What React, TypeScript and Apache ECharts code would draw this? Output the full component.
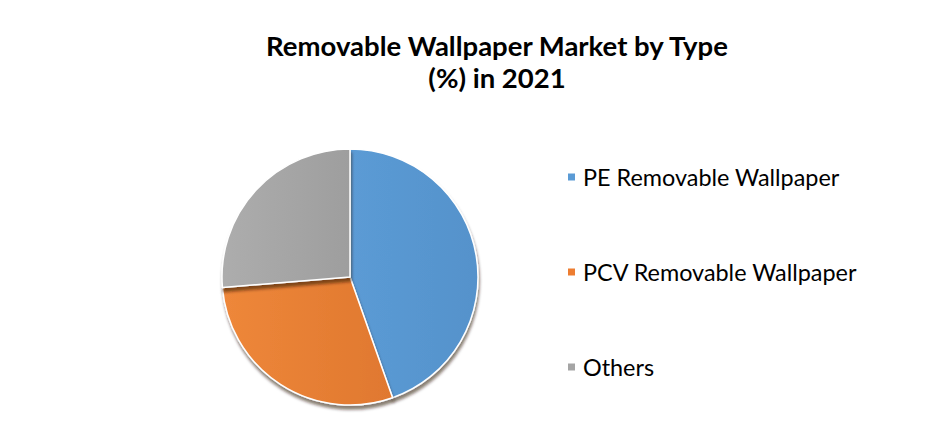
import React, { useEffect, useRef } from "react";
import * as echarts from "echarts";

const categories = ["PE Removable Wallpaper", "PCV Removable Wallpaper", "Others"];
const shares = [44.6, 29.1, 26.3];
const colorStops = [
  ["#5B9BD5", "#5592CB"],
  ["#EE873A", "#E0782F"],
  ["#ADADAD", "#9E9E9E"],
];
const legendColors = ["#5B9BD5", "#ED7D31", "#A5A5A5"];

export default function App() {
  const ref = useRef<HTMLDivElement>(null);
  useEffect(() => {
    document.body.style.margin = "0";
    const chart = echarts.init(ref.current!, null, { renderer: "svg" });
    chart.setOption({
      animation: false,
      backgroundColor: "#ffffff",
      title: {
        text: "Removable Wallpaper Market by Type\n(%) in 2021",
        left: 492,
        textAlign: "center",
        top: 24,
        textStyle: {
          fontFamily: "Lato",
          fontWeight: "bold",
          fontSize: 27.5,
          lineHeight: 32,
          color: "#000000",
        },
      },
      legend: {
        orient: "vertical",
        left: 561,
        top: 160,
        icon: "rect",
        itemWidth: 9,
        itemHeight: 9,
        itemGap: 71,
        textStyle: {
          fontFamily: "Lato",
          fontSize: 23.4,
          lineHeight: 24,
          color: "#000000",
          padding: [0, 0, 0, 2],
        },
        data: categories.map((c, i) => ({ name: c, itemStyle: { color: legendColors[i] } })),
      },
      series: [
        {
          type: "pie",
          center: [350, 277],
          radius: 128,
          startAngle: 90,
          clockwise: true,
          label: { show: false },
          labelLine: { show: false },
          emphasis: { disabled: true },
          itemStyle: {
            borderColor: "#ffffff",
            borderWidth: 1.5,
            shadowColor: "rgba(40,20,0,0.55)",
            shadowBlur: 3,
            shadowOffsetX: 1,
            shadowOffsetY: 4,
          },
          data: categories.map((c, i) => ({
            name: c,
            value: shares[i],
            itemStyle: {
              color: new echarts.graphic.LinearGradient(0, 0, 1, 0, [
                { offset: 0, color: colorStops[i][0] },
                { offset: 1, color: colorStops[i][1] },
              ]),
            },
          })),
        },
      ],
    });
    return () => chart.dispose();
  }, []);
  return <div ref={ref} style={{ width: 940, height: 448 }} />;
}
